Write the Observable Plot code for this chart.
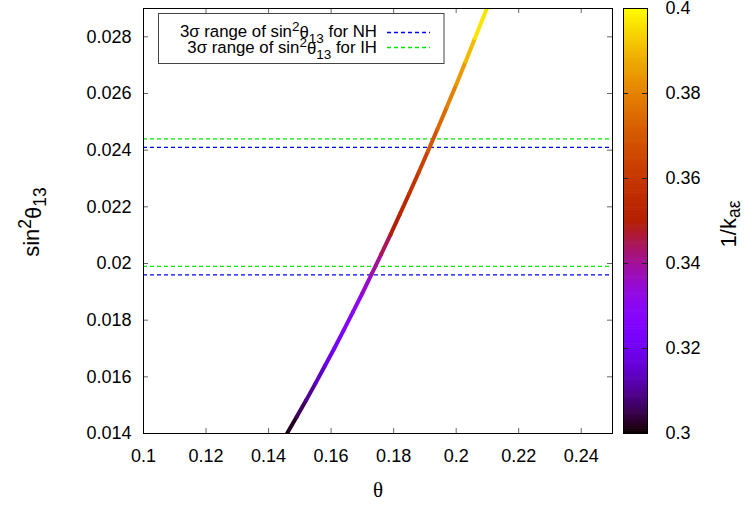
<!DOCTYPE html>
<html><head><meta charset="utf-8">
<script src="https://cdn.jsdelivr.net/npm/d3@7"></script>
<script src="https://cdn.jsdelivr.net/npm/@observablehq/plot@0.6"></script>
<style>
body{margin:0;background:#fff}
#wrap{position:relative;width:748px;height:505px}
#wrap svg{position:absolute;left:0;top:0}
</style>
</head><body><div id="wrap"></div>
<script>
// data
const theta = [0.1459, 0.149, 0.152, 0.155, 0.158, 0.161, 0.164, 0.167, 0.170, 0.173, 0.176,
               0.179, 0.182, 0.185, 0.188, 0.191, 0.194, 0.197, 0.200, 0.203, 0.206, 0.2098];
const sin2 = [0.0140, 0.01459, 0.01517, 0.01577, 0.01638, 0.01700, 0.01764, 0.01829, 0.01895, 0.01963, 0.02032,
              0.02102, 0.02174, 0.02247, 0.02321, 0.02397, 0.02474, 0.02552, 0.02631, 0.02712, 0.02795, 0.0290];
const invK = [0.300, 0.304, 0.308, 0.312, 0.316, 0.320, 0.324, 0.329, 0.333, 0.338, 0.342,
              0.347, 0.352, 0.356, 0.361, 0.366, 0.372, 0.377, 0.382, 0.387, 0.393, 0.400];
const nhRange = [0.0196, 0.0241];
const ihRange = [0.0199, 0.0244];
const xTicks = [0.1, 0.12, 0.14, 0.16, 0.18, 0.2, 0.22, 0.24];
const yTicks = [0.014, 0.016, 0.018, 0.02, 0.022, 0.024, 0.026, 0.028];
const cTicks = [0.3, 0.32, 0.34, 0.36, 0.38, 0.4];
const xDomain = [0.1, 0.25], yDomain = [0.014, 0.029], cDomain = [0.3, 0.4];

// gnuplot default palette (rgbformulae 7,5,15)
function gp(t) {
  const r = Math.sqrt(Math.max(0, t)), g = t * t * t, b = Math.max(0, Math.sin(2 * Math.PI * t));
  return d3.rgb(255 * r, 255 * g, 255 * b).formatHex();
}

const segs = d3.range(theta.length - 1).map(i => ({
  x1: theta[i], y1: sin2[i], x2: theta[i + 1], y2: sin2[i + 1], k: (invK[i] + invK[i + 1]) / 2
}));

const W = 748, H = 505, mL = 143, mR = 136, mT = 8, mB = 72;
const iW = W - mL - mR, iH = H - mT - mB;
const font = "'Liberation Sans', Arial, sans-serif";
const tickCol = "#666";
const green = "#00e800", blue = "#0000ff";

const main = Plot.plot({
  width: W, height: H, marginLeft: mL, marginRight: mR, marginTop: mT, marginBottom: mB,
  style: {fontFamily: font, fontSize: "18px", background: "white", color: "#000", overflow: "visible"},
  x: {domain: xDomain, label: null},
  y: {domain: yDomain, label: null},
  color: {type: "linear", domain: cDomain, interpolate: gp},
  marks: [
    Plot.ruleY(nhRange, {y: d => d, stroke: blue, strokeWidth: 1.4, strokeDasharray: "4,3"}),
    Plot.ruleY(ihRange, {y: d => d, stroke: green, strokeWidth: 1.4, strokeDasharray: "4,3"}),
    Plot.link(segs, {x1: "x1", y1: "y1", x2: "x2", y2: "y2", stroke: "k", strokeWidth: 4, strokeLinecap: "round", clip: true}),
    Plot.tickX(xTicks, {x: d => d, insetTop: iH - 5, stroke: tickCol}),
    Plot.tickX(xTicks, {x: d => d, insetBottom: iH - 5, stroke: tickCol}),
    Plot.tickY(yTicks, {y: d => d, insetRight: iW - 5, stroke: tickCol}),
    Plot.tickY(yTicks, {y: d => d, insetLeft: iW - 5, stroke: tickCol}),
    Plot.axisX(xTicks, {tickSize: 0, tickPadding: 16, tickFormat: d => String(d)}),
    Plot.axisY(yTicks, {tickSize: 0, tickPadding: 12, tickFormat: d => String(d)}),
    Plot.frame({stroke: "#000"})
  ]
});

// colorbar gradient cells
const cStep = 0.0005;
const cells = d3.range(0, 200).map(i => 0.3 + i * cStep);
const cbL = 623, cbR = 647, cbW = cbR - cbL;
const cb = Plot.plot({
  width: W, height: H, marginLeft: cbL, marginRight: W - cbR, marginTop: mT, marginBottom: mB,
  style: {fontFamily: font, fontSize: "18px", background: "transparent", color: "#000", overflow: "visible"},
  x: {domain: [0, 1], axis: null},
  y: {domain: cDomain, axis: null},
  color: {type: "linear", domain: cDomain, interpolate: gp},
  marks: [
    Plot.rect(cells, {x1: 0, x2: 1, y1: d => d, y2: d => Math.min(0.4, d + cStep * 1.3), fill: d => d + cStep / 2}),
    Plot.tickY(cTicks, {y: d => d, insetRight: cbW - 5, stroke: "#222"}),
    Plot.tickY(cTicks, {y: d => d, insetLeft: cbW - 5, stroke: "#222"}),
    Plot.axisY(cTicks, {anchor: "right", tickSize: 0, tickPadding: 18, tickFormat: d => String(d)}),
    Plot.frame({stroke: "#000"})
  ]
});

const wrap = document.getElementById("wrap");
wrap.appendChild(main);
wrap.appendChild(cb);

const svg = d3.select(main);
// y label
const yl = svg.append("text").attr("transform", "translate(39,222) rotate(-90)")
  .attr("text-anchor", "middle").style("font-family", font).style("font-size", "22px").attr("fill", "#000");
yl.append("tspan").text("sin");
yl.append("tspan").attr("dy", "-0.45em").style("font-size", "17.5px").text("2");
yl.append("tspan").attr("dy", "0.45em").text("θ");
yl.append("tspan").attr("dy", "0.3em").style("font-size", "17.5px").text("13");

// x label
svg.append("text").attr("x", 378).attr("y", 497).attr("text-anchor", "middle")
  .style("font-family", "'Liberation Serif', 'DejaVu Serif', serif").style("font-size", "21px").attr("fill", "#000").text("θ");

// colorbar label
const cl = svg.append("text").attr("transform", "translate(736,224) rotate(-90)")
  .attr("text-anchor", "middle").style("font-family", font).style("font-size", "22px").attr("fill", "#000");
cl.append("tspan").text("1/k");
cl.append("tspan").attr("dy", "0.25em").style("font-size", "17.5px").text("aε");

// legend
const lg = svg.append("g").style("font-family", font).style("font-size", "16.8px");
lg.append("rect").attr("x", 158.5).attr("y", 13.5).attr("width", 285.5).attr("height", 50)
  .attr("fill", "white").attr("stroke", "#444").attr("stroke-width", 1);
const rows = [
  {label: "NH", color: blue, y: 32.5, base: 37},
  {label: "IH", color: green, y: 47.5, base: 53}
];
rows.forEach(r => {
  const t = lg.append("text").attr("x", 377).attr("y", r.base).attr("text-anchor", "end").attr("fill", "#000");
  t.append("tspan").text("3σ range of sin");
  t.append("tspan").attr("dy", "-0.45em").style("font-size", "13.5px").text("2");
  t.append("tspan").attr("dy", "0.45em").text("θ");
  t.append("tspan").attr("dy", "0.3em").style("font-size", "13.5px").text("13");
  t.append("tspan").attr("dy", "-0.3em").text(" for " + r.label);
  lg.append("line").attr("x1", 387).attr("x2", 430).attr("y1", r.y).attr("y2", r.y)
    .attr("stroke", r.color).attr("stroke-width", 1.4).attr("stroke-dasharray", "4,3");
});
</script>
</body></html>
